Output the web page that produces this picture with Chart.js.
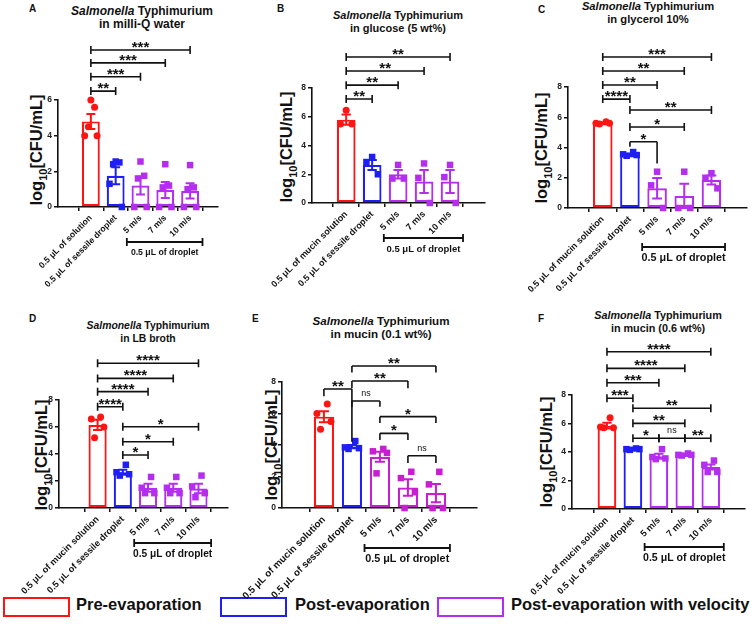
<!DOCTYPE html>
<html lang="en">
<head>
<meta charset="UTF-8">
<title>Salmonella Typhimurium after droplet evaporation</title>
<script src="https://cdn.jsdelivr.net/npm/chart.js"></script>
<style>
  body { margin: 0; background: #fff; font-family: "Liberation Sans", Arial, sans-serif; color: #111; }
  #fig { position: relative; width: 756px; height: 632px; overflow: hidden; }
  #fig canvas { position: absolute; }
  .letter { position: absolute; font-weight: bold; font-size: 10px; }
  .title { position: absolute; transform: translateX(-50%); text-align: center; font-weight: bold; line-height: 13px; white-space: nowrap; }
  .ytitle { position: absolute; transform: translate(-50%, -50%) rotate(-90deg); font-weight: bold; font-size: 16.5px; white-space: nowrap; }
  .ytitle sub { font-size: 11px; }
  .lbox { position: absolute; top: 597px; width: 63px; height: 16px; border: 2px solid; }
  .ltext { position: absolute; top: 595px; font-weight: bold; font-size: 16.5px; white-space: nowrap; }
</style>
</head>
<body>
<div id="fig">
  <div class="letter" style="left:29px;top:3px">A</div>
  <div class="letter" style="left:277px;top:3px">B</div>
  <div class="letter" style="left:538px;top:4px">C</div>
  <div class="letter" style="left:29px;top:313px">D</div>
  <div class="letter" style="left:252px;top:313px">E</div>
  <div class="letter" style="left:538px;top:313px">F</div>

  <div class="title" style="left:142px;top:5px;font-size:12px"><i>Salmonella</i> Typhimurium<br>in milli-Q water</div>
  <div class="title" style="left:398px;top:9px;font-size:11px"><i>Salmonella</i> Typhimurium<br>in glucose (5 wt%)</div>
  <div class="title" style="left:648px;top:0px;font-size:11.2px"><i>Salmonella</i> Typhimurium<br>in glycerol 10%</div>
  <div class="title" style="left:148px;top:319px;font-size:10.4px"><i>Salmonella</i> Typhimurium<br>in LB broth</div>
  <div class="title" style="left:381px;top:314px;font-size:11.6px"><i>Salmonella</i> Typhimurium<br>in mucin (0.1 wt%)</div>
  <div class="title" style="left:658px;top:309px;font-size:10.8px"><i>Salmonella</i> Typhimurium<br>in mucin (0.6 wt%)</div>

  <div class="ytitle" style="left:38px;top:150px">log<sub>10</sub>[CFU/mL]</div>
  <div class="ytitle" style="left:288px;top:147px">log<sub>10</sub>[CFU/mL]</div>
  <div class="ytitle" style="left:543px;top:148px">log<sub>10</sub>[CFU/mL]</div>
  <div class="ytitle" style="left:43px;top:455px">log<sub>10</sub>[CFU/mL]</div>
  <div class="ytitle" style="left:273px;top:445px">log<sub>10</sub>[CFU/mL]</div>
  <div class="ytitle" style="left:548px;top:452px">log<sub>10</sub>[CFU/mL]</div>

  <div class="lbox" style="left:3px;border-color:#ff1414"></div>
  <div class="ltext" style="left:76px">Pre-evaporation</div>
  <div class="lbox" style="left:220px;border-color:#1f1ff5"></div>
  <div class="ltext" style="left:295px">Post-evaporation</div>
  <div class="lbox" style="left:437px;border-color:#b52ef0"></div>
  <div class="ltext" style="left:511px">Post-evaporation with velocity</div>
</div>

<script>
// categories
const catsWater = ['0.5 \u03bcL of solution', '0.5 \u03bcL of sessile droplet', '5 m/s', '7 m/s', '10 m/s'];
const catsMucin = ['0.5 \u03bcL of mucin solution', '0.5 \u03bcL of sessile droplet', '5 m/s', '7 m/s', '10 m/s'];
const dropletLabel = '0.5 \u03bcL of droplet';

// A - milli-Q water
const meanA = [4.8, 1.75, 1.2, 0.95, 0.9];
const semA = [0.42, 0.48, 0.5, 0.45, 0.43];
const ptsA = [[6.0, 5.6, 4.5, 4.0, 4.0], [2.55, 2.5, 2.4, 1.3, 0], [2.55, 1.75, 1.6, 0, 0], [2.4, 1.2, 1.1, 0, 0], [2.35, 1.1, 1.0, 0, 0]];
const sigA = [[0, 1, 6.5, '**'], [0, 2, 7.3, '***'], [0, 3, 8.08, '***'], [0, 4, 8.8, '***']];

// B - glucose 5 wt%
const meanB = [5.8, 2.65, 2.0, 1.5, 1.5];
const semB = [0.35, 0.35, 0.3, 0.8, 0.8];
const ptsB = [[6.45, 5.5, 5.5], [3.2, 2.85, 2.0], [2.65, 1.7, 1.7], [2.75, 1.75, 0], [2.65, 1.8, 0]];
const sigB = [[0, 1, 7.23, '**'], [0, 2, 8.2, '**'], [0, 3, 9.18, '**'], [0, 4, 10.16, '**']];

// C - glycerol 10%
const meanC = [5.6, 3.5, 1.3, 0.8, 1.85];
const semC = [0.05, 0.08, 0.68, 0.8, 0.3];
const ptsC = [[5.7, 5.6, 5.6, 5.55], [3.7, 3.55, 3.5, 3.45], [2.4, 1.5, 0], [2.4, 0, 0], [2.3, 2.0, 1.3]];
const sigC = [[0, 1, 7.2, '****'], [0, 2, 8.13, '**'], [0, 3, 9.06, '**'], [0, 4, 9.98, '***'],
              [1, 4, 6.48, '**'], [1, 3, 5.36, '*'], [1, 2, 4.38, '*', 4.05, 2.95]];

// D - LB broth
const meanD = [6.15, 2.65, 1.5, 1.5, 1.45];
const semD = [0.38, 0.18, 0.3, 0.3, 0.35];
const ptsD = [[6.75, 6.6, 6.0, 5.2], [3.2, 2.65, 2.5, 2.4], [2.3, 1.5, 1.1, 1.1], [2.3, 1.5, 1.1, 1.1], [2.4, 1.6, 1.1, 0.8]];
const sigD = [[0, 1, 7.5, '****'], [0, 2, 8.62, '****'], [0, 3, 9.6, '****'], [0, 4, 10.72, '****'],
              [1, 2, 3.93, '*'], [1, 3, 4.91, '*'], [1, 4, 6.02, '*']];

// E - mucin 0.1 wt%
const meanE = [5.8, 3.9, 3.25, 1.3, 0.95];
const semE = [0.35, 0.1, 0.32, 0.52, 0.58];
const ptsE = [[6.6, 6.0, 5.5, 5.0], [4.25, 3.85, 3.8, 3.75], [3.75, 3.6, 3.5, 2.2], [2.3, 1.9, 1.0, 0], [2.3, 1.5, 0, 0]];
const sigE = [[0, 1, 7.56, '**', 7.1, 4.2], [1, 2, 6.79, 'ns', 6.43, 6.43], [1, 3, 8.06, '**', 7.6, 7.6],
              [1, 4, 9.02, '**', 8.6, 8.6], [2, 3, 4.74, '*', 4.32, 4.32], [2, 4, 5.8, '*', 5.39, 5.39],
              [3, 4, 3.32, 'ns', 2.85, 2.85]];

// F - mucin 0.6 wt%
const meanF = [5.85, 4.2, 3.7, 3.8, 2.95];
const semF = [0.2, 0.03, 0.18, 0.03, 0.18];
const ptsF = [[6.4, 5.75, 5.7, 5.7], [4.25, 4.2, 4.2, 4.15], [4.2, 3.65, 3.55, 3.5], [3.9, 3.8, 3.8, 3.75], [3.4, 3.1, 2.6, 2.6]];
const sigF = [[0, 1, 7.77, '***'], [0, 2, 8.86, '***'], [0, 3, 9.87, '****'], [0, 4, 11.04, '****'],
              [1, 4, 7.07, '**'], [1, 3, 6.01, '**'], [1, 2, 4.96, '*'], [2, 3, 4.96, 'ns'], [3, 4, 4.96, '**']];

// styling / layout
const RED = '#ff1414', BLUE = '#1f1ff5';
const JITTER = { 3: [0, -0.22, 0.22], 4: [0.12, -0.25, 0.25, -0.12], 5: [0, 0.15, -0.1, -0.25, 0.25] };
const Y_W = 24;
const FONT = '"Liberation Sans", Arial, sans-serif';

const panels = [
  { cats: catsWater, mean: meanA, sem: semA, pts: ptsA, sig: sigA, yMax: 6,
    box: [0, 0, 250, 295], plot: [58, 100, 218, 207], xr: [-0.68, 4.48], purple: '#b52ef0', tick: 8.6, drop: 8.7, gap: 35 },
  { cats: catsMucin, mean: meanB, sem: semB, pts: ptsB, sig: sigB, yMax: 8,
    box: [250, 0, 250, 295], plot: [312, 88, 485, 203], xr: [-0.65, 4.68], purple: '#b52ef0', tick: 9, drop: 9.5, gap: 35 },
  { cats: catsMucin, mean: meanC, sem: semC, pts: ptsC, sig: sigC, yMax: 8,
    box: [490, 0, 266, 295], plot: [568, 87, 747, 208], xr: [-0.62, 4.65], purple: '#b52ef0', tick: 9, drop: 10.8, gap: 39 },
  { cats: catsMucin, mean: meanD, sem: semD, pts: ptsD, sig: sigD, yMax: 8,
    box: [0, 290, 250, 312], plot: [59, 400, 228, 508], xr: [-0.86, 4.5], purple: '#b52ef0', tick: 9.2, drop: 10.2, gap: 35 },
  { cats: catsMucin, mean: meanE, sem: semE, pts: ptsE, sig: sigE, yMax: 8,
    box: [200, 290, 300, 312], plot: [282, 382, 477, 508], xr: [-0.8, 4.77], purple: '#c81ed2', tick: 9.8, drop: 10.8, gap: 40 },
  { cats: catsMucin, mean: meanF, sem: semF, pts: ptsF, sig: sigF, yMax: 8,
    box: [480, 290, 276, 312], plot: [572, 395, 745, 509], xr: [-0.68, 4.65], purple: '#b52ef0', tick: 9.2, drop: 10.6, gap: 38 }
];

function annotations(p, cols) {
  return {
    id: 'annot',
    afterDatasetDraw(chart, args) {
      if (args.index !== 0) return;
      // SEM error bars
      const { ctx, scales: { x, y } } = chart;
      const unit = x.getPixelForValue(1) - x.getPixelForValue(0);
      ctx.save();
      ctx.lineWidth = 2;
      p.mean.forEach((m, i) => {
        const cx = x.getPixelForValue(i);
        const hi = y.getPixelForValue(m + p.sem[i]);
        const lo = y.getPixelForValue(Math.max(0, m - p.sem[i]));
        const w = unit * 0.18;
        ctx.strokeStyle = cols[i];
        ctx.beginPath();
        ctx.moveTo(cx, hi); ctx.lineTo(cx, lo);
        ctx.moveTo(cx - w, hi); ctx.lineTo(cx + w, hi);
        ctx.moveTo(cx - w, lo); ctx.lineTo(cx + w, lo);
        ctx.stroke();
      });
      ctx.restore();
    },
    afterDraw(chart) {
      const { ctx, scales: { x, y }, chartArea } = chart;
      ctx.save();
      ctx.strokeStyle = '#111';
      ctx.fillStyle = '#111';
      ctx.lineWidth = 1.6;
      ctx.textAlign = 'center';
      // significance brackets
      p.sig.forEach(([a, b, v, label, legA, legB]) => {
        const x1 = x.getPixelForValue(a), x2 = x.getPixelForValue(b), yy = y.getPixelForValue(v);
        ctx.beginPath();
        ctx.moveTo(x1, yy); ctx.lineTo(x2, yy);
        if (legA === undefined) {
          ctx.moveTo(x1, yy - 4); ctx.lineTo(x1, yy + 4);
          ctx.moveTo(x2, yy - 4); ctx.lineTo(x2, yy + 4);
        } else {
          ctx.moveTo(x1, yy); ctx.lineTo(x1, y.getPixelForValue(legA));
          ctx.moveTo(x2, yy); ctx.lineTo(x2, y.getPixelForValue(legB));
        }
        ctx.stroke();
        if (label === 'ns') {
          ctx.font = '9px ' + FONT;
          ctx.textBaseline = 'bottom';
          ctx.fillText(label, (x1 + x2) / 2, yy - 3);
        } else {
          ctx.font = 'bold 15px ' + FONT;
          ctx.textBaseline = 'alphabetic';
          ctx.fillText(label, (x1 + x2) / 2, yy + 2);
        }
      });
      // "0.5 uL of droplet" group bracket
      const dy = chartArea.bottom + p.gap;
      const l = x.getPixelForValue(1.45), r = x.getPixelForValue(4.5);
      ctx.lineWidth = 1.8;
      ctx.beginPath();
      ctx.moveTo(l, dy); ctx.lineTo(r, dy);
      ctx.moveTo(l, dy - 4); ctx.lineTo(l, dy + 4);
      ctx.moveTo(r, dy - 4); ctx.lineTo(r, dy + 4);
      ctx.stroke();
      ctx.font = 'bold ' + p.drop + 'px ' + FONT;
      ctx.textBaseline = 'middle';
      ctx.fillText(dropletLabel, (l + r) / 2, dy + 11);
      ctx.restore();
    }
  };
}

const fig = document.getElementById('fig');
panels.forEach(p => {
  const [bx, by, bw, bh] = p.box;
  const [pl, pt, pr, pb] = p.plot;
  const xH = by + bh - pb; // x scale gets all the room under the plot (labels are clipped to it)
  const cv = document.createElement('canvas');
  cv.width = bw; cv.height = bh;
  cv.style.left = bx + 'px'; cv.style.top = by + 'px';
  cv.style.width = bw + 'px'; cv.style.height = bh + 'px';
  fig.appendChild(cv);

  const cols = [RED, BLUE, p.purple, p.purple, p.purple];
  const datasets = [{
    type: 'bar',
    data: p.mean.map((m, i) => ({ x: i, y: m })),
    backgroundColor: '#fff',
    borderColor: cols,
    borderWidth: 2.2,
    borderSkipped: false,
    order: 2
  }];
  p.pts.forEach((vals, i) => {
    const jit = JITTER[vals.length];
    datasets.push({
      type: 'scatter',
      data: vals.map((v, k) => ({ x: i + jit[k], y: v })),
      pointStyle: i === 0 ? 'circle' : 'rect',
      pointRadius: i === 0 ? 3.5 : 4.6,
      backgroundColor: cols[i],
      borderWidth: 0,
      clip: false,
      order: 1
    });
  });

  new Chart(cv, {
    type: 'bar',
    data: { datasets },
    options: {
      responsive: false,
      animation: false,
      events: [],
      layout: {
        autoPadding: false,
        padding: { left: pl - bx - Y_W, top: pt - by, right: bx + bw - pr, bottom: 0 }
      },
      plugins: { legend: { display: false }, tooltip: { enabled: false } },
      scales: {
        x: {
          type: 'linear',
          min: p.xr[0], max: p.xr[1],
          afterBuildTicks: s => { s.ticks = p.cats.map((_, i) => ({ value: i })); },
          afterFit: s => { s.height = xH; s.paddingLeft = 0; s.paddingRight = 0; },
          ticks: {
            autoSkip: false, minRotation: 45, maxRotation: 45, padding: 2,
            color: '#111', font: { family: FONT, weight: 'bold', size: p.tick },
            callback: v => p.cats[v]
          },
          grid: { drawOnChartArea: false, tickLength: 4, color: '#111', lineWidth: 1.5 },
          border: { color: '#111', width: 1.6 }
        },
        y: {
          min: 0, max: p.yMax,
          afterFit: s => { s.width = Y_W; s.paddingTop = 0; s.paddingBottom = 0; },
          ticks: { stepSize: 2, padding: 2, color: '#222', font: { family: FONT, weight: 'bold', size: 8.5 } },
          grid: { drawOnChartArea: false, tickLength: 4, color: '#111', lineWidth: 1.5 },
          border: { color: '#111', width: 1.6 }
        }
      }
    },
    plugins: [annotations(p, cols)]
  });
});
</script>
</body>
</html>
